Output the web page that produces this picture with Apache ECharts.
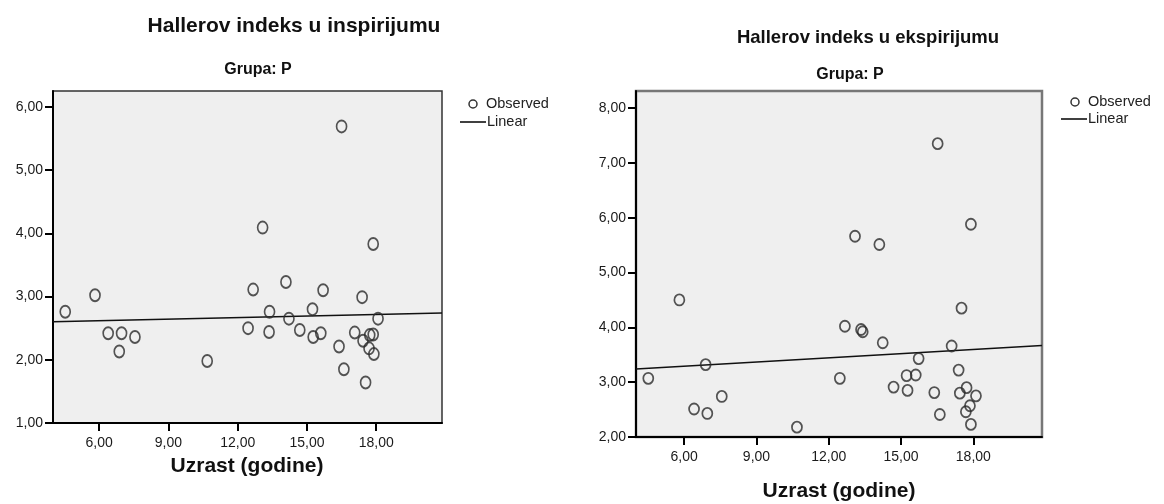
<!DOCTYPE html>
<html><head><meta charset="utf-8">
<script src="https://cdn.jsdelivr.net/npm/echarts@6/dist/echarts.min.js"></script>
<style>html,body{margin:0;padding:0;background:#fff}#c{width:1164px;height:504px}</style>
</head><body><div id="c"></div>
<script>
// Left panel: Hallerov indeks u inspirijumu
const leftAge   = [16.50,13.08,17.87,4.53,5.82,6.39,6.97,7.55,6.87,10.68,12.67,14.09,15.70,17.39,13.38,14.22,15.24,18.08,12.45,13.36,14.69,15.27,15.60,17.07,17.43,17.72,17.87,17.69,17.90,16.39,16.60,17.54];
const leftIndex = [5.69,4.09,3.83,2.76,3.02,2.42,2.42,2.36,2.13,1.98,3.11,3.23,3.10,2.99,2.76,2.65,2.80,2.65,2.50,2.44,2.47,2.36,2.42,2.43,2.30,2.39,2.40,2.18,2.09,2.21,1.85,1.64];
// Right panel: Hallerov indeks u ekspirijumu
const rightAge   = [16.52,13.09,14.10,17.90,5.80,6.89,4.51,6.41,6.96,7.56,10.68,17.51,12.67,13.34,13.41,14.24,17.10,15.73,12.46,15.23,15.61,17.39,14.69,15.27,16.38,17.44,17.72,18.11,17.86,17.69,16.61,17.90];
const rightIndex = [7.35,5.66,5.51,5.88,4.50,3.32,3.07,2.51,2.43,2.74,2.18,4.35,4.02,3.96,3.92,3.72,3.66,3.43,3.07,3.12,3.13,3.22,2.91,2.85,2.81,2.80,2.90,2.75,2.57,2.46,2.41,2.23];
// Linear fit lines (end points)
const leftFitX  = [4, 20.85];
const leftFitY  = [2.60, 2.74];
const rightFitX = [4, 20.85];
const rightFitY = [3.24, 3.67];
// Ticks
const xTicks = [6, 9, 12, 15, 18];
const leftYTicks = [1, 2, 3, 4, 5, 6];
const rightYTicks = [2, 3, 4, 5, 6, 7, 8];
const titles = ['Hallerov indeks u inspirijumu', 'Hallerov indeks u ekspirijumu'];
const subTitle = 'Grupa: P';
const xTitle = 'Uzrast (godine)';
const legendNames = ['Observed', 'Linear'];

const fmt = v => v.toFixed(2).replace('.', ',');
const zip = (a, b) => a.map((v, i) => [v, b[i]]);
const FONT = '"Liberation Sans", Arial, sans-serif';

function xAxis(g) {
  return {
    type: 'value', gridIndex: g, min: 4, max: 20.85,
    axisLine: { show: true, lineStyle: { color: '#000', width: 2 } },
    axisTick: { show: true, customValues: xTicks, length: 8, lineStyle: { color: '#000', width: 2 } },
    axisLabel: { customValues: xTicks, formatter: fmt, fontSize: 14, color: '#1a1a1a', margin: 13, fontFamily: FONT },
    splitLine: { show: false }
  };
}
function yAxis(g, min, max, ticks) {
  return {
    type: 'value', gridIndex: g, min: min, max: max,
    axisLine: { show: true, lineStyle: { color: '#000', width: 2 } },
    axisTick: { show: true, customValues: ticks, length: 8, lineStyle: { color: '#000', width: 2 } },
    axisLabel: { customValues: ticks, formatter: fmt, fontSize: 14, color: '#1a1a1a', margin: 10, fontFamily: FONT },
    splitLine: { show: false }
  };
}
function scatter(i, x, y, size) {
  return {
    type: 'scatter', name: 'Observed', xAxisIndex: i, yAxisIndex: i, data: zip(x, y),
    symbol: 'circle', symbolSize: size,
    itemStyle: { color: 'rgba(0,0,0,0)', borderColor: '#2a2a2a', borderWidth: 1.8 },
    silent: true, z: 3
  };
}
function fit(i, x, y) {
  return {
    type: 'line', name: 'Linear', xAxisIndex: i, yAxisIndex: i, data: zip(x, y),
    showSymbol: false, symbol: 'none', lineStyle: { color: '#111', width: 1.6 }, silent: true, z: 2
  };
}
function legend(cx, cy, lx1, lx2, ly) {
  return [
    { type: 'circle', shape: { cx: cx, cy: cy, r: 4 }, style: { fill: 'none', stroke: '#333', lineWidth: 1.5 } },
    { type: 'text', x: cx + 13, y: cy, style: { text: legendNames[0], font: '14.5px ' + FONT, fill: '#222', textVerticalAlign: 'middle' } },
    { type: 'line', shape: { x1: lx1, y1: ly, x2: lx2, y2: ly }, style: { stroke: '#111', lineWidth: 1.6 } },
    { type: 'text', x: lx2 + 1, y: ly, style: { text: legendNames[1], font: '14.5px ' + FONT, fill: '#222', textVerticalAlign: 'middle' } }
  ];
}
function label(text, x, y, font) {
  return { type: 'text', x: x, y: y, style: { text: text, font: font, fill: '#111', textAlign: 'center', textVerticalAlign: 'middle' } };
}

const chart = echarts.init(document.getElementById('c'), null, { renderer: 'canvas' });
chart.setOption({
  animation: false,
  backgroundColor: '#fff',
  grid: [
    { left: 53, top: 91, width: 389, height: 332, show: true, backgroundColor: '#efefef', borderColor: '#333', borderWidth: 1.5 },
    { left: 636, top: 91, width: 406, height: 346, show: true, backgroundColor: '#efefef', borderColor: '#777', borderWidth: 2.5 }
  ],
  xAxis: [xAxis(0), xAxis(1)],
  yAxis: [yAxis(0, 1, 6.25, leftYTicks), yAxis(1, 2, 8.31, rightYTicks)],
  series: [
    fit(0, leftFitX, leftFitY), scatter(0, leftAge, leftIndex, [10, 12]),
    fit(1, rightFitX, rightFitY), scatter(1, rightAge, rightIndex, [10, 11])
  ],
  graphic: [
    label(titles[0], 294, 26, 'bold 21px ' + FONT),
    label(titles[1], 868, 38, 'bold 18.5px ' + FONT),
    label(subTitle, 258, 70, 'bold 16px ' + FONT),
    label(subTitle, 850, 75, 'bold 16px ' + FONT),
    label(xTitle, 247, 466, 'bold 21px ' + FONT),
    label(xTitle, 839, 491, 'bold 21px ' + FONT),
    ...legend(473, 104, 460, 486, 122),
    ...legend(1075, 102, 1061, 1087, 119)
  ]
});
</script>
</body></html>
